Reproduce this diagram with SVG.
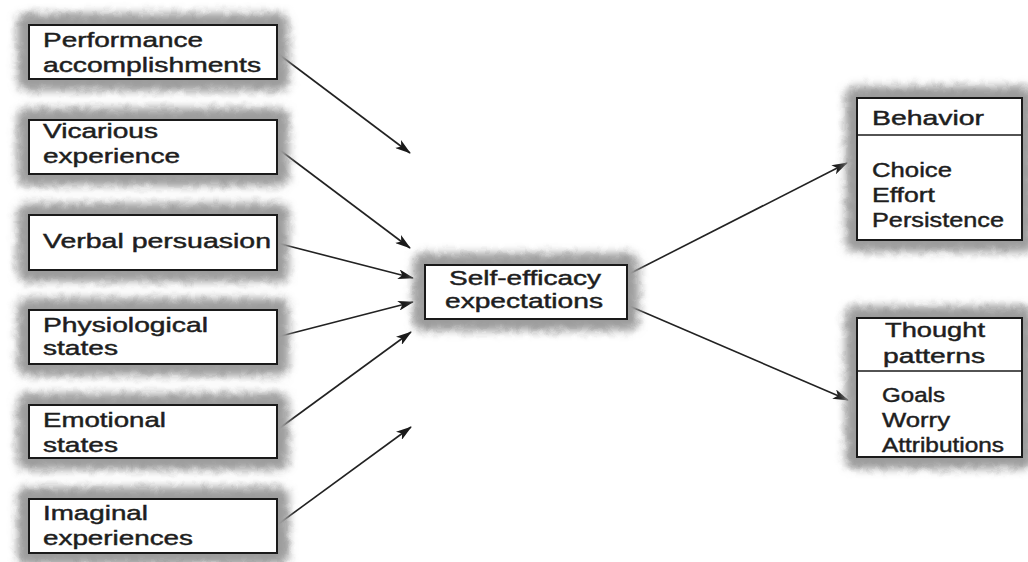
<svg xmlns="http://www.w3.org/2000/svg" width="1028" height="562" viewBox="0 0 1028 562">
<style>
.sh{fill:#9c9c9c;filter:url(#fuzz)}
.bx{fill:#fff;stroke:#1a1a1a;stroke-width:2}
.t{font-family:"Liberation Sans",Arial,sans-serif;font-size:20.5px;fill:#1e1e1e;stroke:#1e1e1e;stroke-width:0.45}
.c{stroke:#222;stroke-width:1.6;fill:none;marker-end:url(#ah)}
.dv{stroke:#1a1a1a;stroke-width:1.6}
</style>
<defs>
<filter id="fuzz" x="-30%" y="-60%" width="160%" height="220%">
<feGaussianBlur in="SourceGraphic" stdDeviation="4" result="b"/>
<feTurbulence type="fractalNoise" baseFrequency="0.1" numOctaves="2" seed="3" result="n"/>
<feDisplacementMap in="b" in2="n" scale="6" xChannelSelector="R" yChannelSelector="G"/>
</filter>
<marker id="ah" viewBox="0 0 16 10" refX="15" refY="5" markerWidth="16" markerHeight="10" markerUnits="userSpaceOnUse" orient="auto">
<path d="M0,0 L16,5 L0,10 L4,5 Z" fill="#1a1a1a"/>
</marker>
</defs>
<rect width="1028" height="562" fill="#fff"/>
<g id="connectors">
<line class="c" x1="277" y1="53" x2="410" y2="153"/>
<line class="c" x1="277" y1="148" x2="410" y2="248"/>
<line class="c" x1="277" y1="243" x2="413" y2="278"/>
<line class="c" x1="277" y1="337" x2="413" y2="302"/>
<line class="c" x1="277" y1="430" x2="411" y2="332"/>
<line class="c" x1="277" y1="525" x2="411" y2="427"/>
<line class="c" x1="627" y1="275" x2="847" y2="163"/>
<line class="c" x1="627" y1="305" x2="848" y2="400"/>
</g>
<g id="performance">
<rect class="sh" x="17" y="13" width="272" height="78" rx="10"/>
<rect class="bx" x="29" y="25" width="248" height="54"/>
<text class="t" x="43" y="47" textLength="160" lengthAdjust="spacingAndGlyphs">Performance</text>
<text class="t" x="43" y="72" textLength="218" lengthAdjust="spacingAndGlyphs">accomplishments</text>
</g>
<g id="vicarious">
<rect class="sh" x="17" y="108" width="272" height="78" rx="10"/>
<rect class="bx" x="29" y="120" width="248" height="54"/>
<text class="t" x="43" y="138" textLength="115" lengthAdjust="spacingAndGlyphs">Vicarious</text>
<text class="t" x="43" y="163" textLength="137" lengthAdjust="spacingAndGlyphs">experience</text>
</g>
<g id="verbal">
<rect class="sh" x="17" y="203" width="272" height="79" rx="10"/>
<rect class="bx" x="29" y="215" width="248" height="55"/>
<text class="t" x="43" y="248" textLength="228" lengthAdjust="spacingAndGlyphs">Verbal persuasion</text>
</g>
<g id="physiological">
<rect class="sh" x="17" y="298" width="272" height="78" rx="10"/>
<rect class="bx" x="29" y="310" width="248" height="54"/>
<text class="t" x="43" y="332" textLength="165" lengthAdjust="spacingAndGlyphs">Physiological</text>
<text class="t" x="43" y="355" textLength="75" lengthAdjust="spacingAndGlyphs">states</text>
</g>
<g id="emotional">
<rect class="sh" x="17" y="393" width="272" height="77" rx="10"/>
<rect class="bx" x="29" y="405" width="248" height="53"/>
<text class="t" x="43" y="427" textLength="123" lengthAdjust="spacingAndGlyphs">Emotional</text>
<text class="t" x="43" y="452" textLength="75" lengthAdjust="spacingAndGlyphs">states</text>
</g>
<g id="imaginal">
<rect class="sh" x="17" y="487" width="272" height="78" rx="10"/>
<rect class="bx" x="29" y="499" width="248" height="54"/>
<text class="t" x="43" y="520" textLength="105" lengthAdjust="spacingAndGlyphs">Imaginal</text>
<text class="t" x="43" y="545" textLength="150" lengthAdjust="spacingAndGlyphs">experiences</text>
</g>
<g id="selfefficacy">
<rect class="sh" x="413" y="253" width="226" height="78" rx="10"/>
<rect class="bx" x="425" y="265" width="202" height="54"/>
<text class="t" x="449" y="285" textLength="152" lengthAdjust="spacingAndGlyphs">Self-efficacy</text>
<text class="t" x="445" y="308" textLength="158" lengthAdjust="spacingAndGlyphs">expectations</text>
</g>
<g id="behavior">
<rect class="sh" x="845" y="86" width="189" height="166" rx="10"/>
<rect class="bx" x="857" y="98" width="165" height="142"/>
<line class="dv" x1="857" y1="135" x2="1022" y2="135"/>
<text class="t" x="872" y="125" textLength="112" lengthAdjust="spacingAndGlyphs">Behavior</text>
<text class="t" x="872" y="177" textLength="80" lengthAdjust="spacingAndGlyphs">Choice</text>
<text class="t" x="872" y="202" textLength="63" lengthAdjust="spacingAndGlyphs">Effort</text>
<text class="t" x="872" y="227" textLength="132" lengthAdjust="spacingAndGlyphs">Persistence</text>
</g>
<g id="thought">
<rect class="sh" x="845" y="306" width="189" height="163" rx="10"/>
<rect class="bx" x="857" y="318" width="165" height="139"/>
<line class="dv" x1="857" y1="371" x2="1022" y2="371"/>
<text class="t" x="885" y="337" textLength="100" lengthAdjust="spacingAndGlyphs">Thought</text>
<text class="t" x="883" y="363" textLength="102" lengthAdjust="spacingAndGlyphs">patterns</text>
<text class="t" x="882" y="402" textLength="63" lengthAdjust="spacingAndGlyphs">Goals</text>
<text class="t" x="882" y="427" textLength="68" lengthAdjust="spacingAndGlyphs">Worry</text>
<text class="t" x="882" y="452" textLength="122" lengthAdjust="spacingAndGlyphs">Attributions</text>
</g>
</svg>
